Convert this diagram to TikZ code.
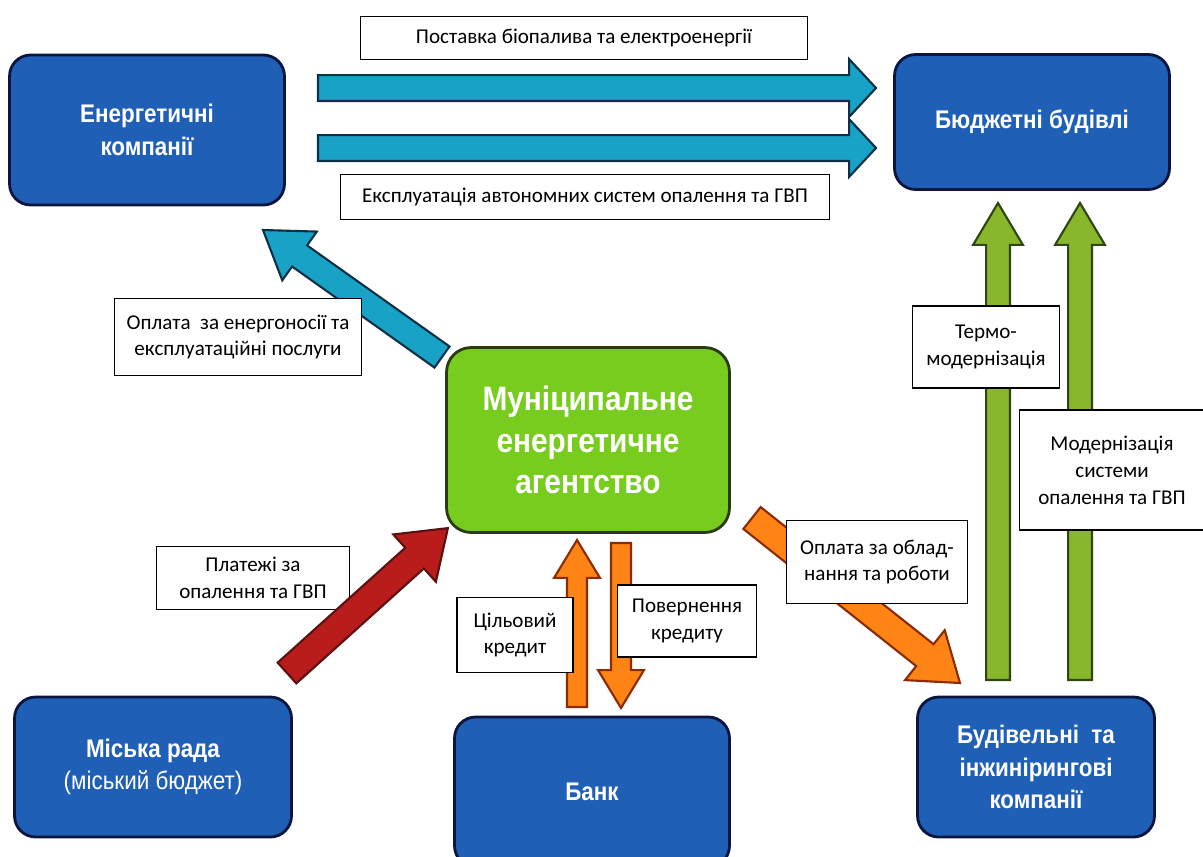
\documentclass[tikz,border=0pt]{standalone}
\usepackage{fontspec}
\setmainfont{Carlito}
\newfontfamily\boxfont[FakeStretch=0.88]{Liberation Sans}
\usetikzlibrary{calc}

\definecolor{boxblue}{HTML}{1F5FB5}
\definecolor{boxedge}{HTML}{0B1640}
\definecolor{agencygreen}{HTML}{78CC1E}
\definecolor{agencyedge}{HTML}{2B3A12}
\definecolor{flowblue}{HTML}{18A3C6}
\definecolor{flowblueedge}{HTML}{0D3046}
\definecolor{flowred}{HTML}{B81D1C}
\definecolor{flowrededge}{HTML}{5C1010}
\definecolor{floworange}{HTML}{FF8416}
\definecolor{floworangeedge}{HTML}{8C2A00}
\definecolor{flowgreen}{HTML}{88B72C}
\definecolor{flowgreenedge}{HTML}{2E4612}

% block arrow: style, from, to, shaft half width, head half width, head length (px)
\newcommand{\bigarrow}[6]{%
  \draw[#1] let \p1=(#2), \p2=(#3), \n1={atan2(\y2-\y1,\x2-\x1)},
    \n2={veclen(\x2-\x1,\y2-\y1)} in
    [shift={(\p1)}, rotate=\n1]
    (0pt,{-#4*0.5669pt}) -- ({\n2-#6*0.5669pt},{-#4*0.5669pt})
    -- ({\n2-#6*0.5669pt},{-#5*0.5669pt}) -- ({\n2*1pt},0pt)
    -- ({\n2-#6*0.5669pt},{#5*0.5669pt}) -- ({\n2-#6*0.5669pt},{#4*0.5669pt})
    -- (0pt,{#4*0.5669pt}) -- cycle;
}

\begin{document}
\begin{tikzpicture}[
  x=0.02cm, y=-0.02cm,
  bluebox/.style={draw=boxedge, line width=1.6pt, fill=boxblue, rounded corners=12pt,
    text=white, align=center, font=\boxfont\bfseries\fontsize{14.5}{18.5}\selectfont},
  agency/.style={draw=agencyedge, line width=1.6pt, fill=agencygreen, rounded corners=14pt,
    text=white, align=center, font=\boxfont\bfseries\fontsize{19.3}{23.5}\selectfont,
    minimum width=5.66cm, minimum height=3.7cm},
  note/.style={draw=black, line width=0.6pt, fill=white, align=center,
    font=\fontsize{12}{15.3}\selectfont},
  bluearr/.style={fill=flowblue, draw=flowblueedge, line width=1.2pt},
  redarr/.style={fill=flowred, draw=flowrededge, line width=1.2pt},
  orangearr/.style={fill=floworange, draw=floworangeedge, line width=1.2pt},
  greenarr/.style={fill=flowgreen, draw=flowgreenedge, line width=1.2pt}
]
\useasboundingbox (0,0) rectangle (1203,856);

% participants
\node[bluebox, minimum width=5.5cm, minimum height=3cm] (energy) at (147,130)
  {Енергетичні\\компанії};
\node[bluebox, minimum width=5.5cm, minimum height=2.7cm] (budget) at (1032,122)
  {Бюджетні будівлі};
\node[agency] (agency) at (588,440) {Муніципальне\\енергетичне\\агентство};
\node[bluebox, minimum width=5.54cm, minimum height=2.8cm] (council) at (153,767)
  {Міська рада\\{\mdseries(міський бюджет)}};
\node[bluebox, minimum width=5.5cm, minimum height=3cm] (bank) at (592,792) {Банк};
\node[bluebox, minimum width=4.74cm, minimum height=2.8cm] (builders) at (1036,767)
  {Будівельні\ \ та\\інжинірингові\\компанії};

% arrow ends
\coordinate (supA) at (318,88);    \coordinate (supB) at (876,88);
\coordinate (opA) at (318,148);    \coordinate (opB) at (876,148);
\coordinate (payA) at (442,357);   \coordinate (payB) at (263,230);
\coordinate (creA) at (577,707);   \coordinate (creB) at (577,540);
\coordinate (retA) at (621,543);   \coordinate (retB) at (621,708);
\coordinate (worA) at (752,518);   \coordinate (worB) at (960,683);
\coordinate (thA) at (998,680);    \coordinate (thB) at (998,203);
\coordinate (heA) at (1080,680);   \coordinate (heB) at (1080,203);
\coordinate (citA) at (287,673);   \coordinate (citB) at (448,528);

% flows
\bigarrow{bluearr}{supA}{supB}{13}{29}{27}
\bigarrow{bluearr}{opA}{opB}{13}{29}{27}
\bigarrow{bluearr}{payA}{payB}{13}{30}{45}
\bigarrow{orangearr}{creA}{creB}{10}{23}{38}
\bigarrow{orangearr}{retA}{retB}{10}{23}{38}
\bigarrow{orangearr}{worA}{worB}{14}{32}{45}
\bigarrow{greenarr}{thA}{thB}{12}{25}{42}
\bigarrow{greenarr}{heA}{heB}{12}{25}{42}

% labels
\node[note, minimum width=8.96cm, minimum height=0.86cm] (supply) at (584,38)
  {Поставка біопалива та електроенергії};
\node[note, minimum width=9.8cm, minimum height=0.9cm] (service) at (585,197)
  {Експлуатація автономних систем опалення та ГВП};
\node[note, minimum width=4.94cm, minimum height=1.54cm] (fee) at (238,337)
  {Оплата\ \ за енергоносії та\\експлуатаційні послуги};
\node[note, minimum width=3.86cm, minimum height=1.26cm] (tariff) at (253,578)
  {Платежі за\\опалення та ГВП};
\node[note, minimum width=2.32cm, minimum height=1.5cm] (loan) at (515,635)
  {Цільовий\\кредит};
\node[note, minimum width=2.78cm, minimum height=1.44cm] (repay) at (687,621)
  {Повернення\\кредиту};
\node[note, minimum width=3.62cm, minimum height=1.66cm] (works) at (877,562)
  {Оплата за облад-\\нання та роботи};
\node[note, minimum width=2.94cm, minimum height=1.64cm] (thermo) at (986,347)
  {Термо-\\модернізація};
\node[note, minimum width=3.7cm, minimum height=2.4cm] (heating) at (1112,470)
  {Модернізація\\системи\\опалення та ГВП};

\bigarrow{redarr}{citA}{citB}{14}{32}{45}
\end{tikzpicture}
\end{document}
